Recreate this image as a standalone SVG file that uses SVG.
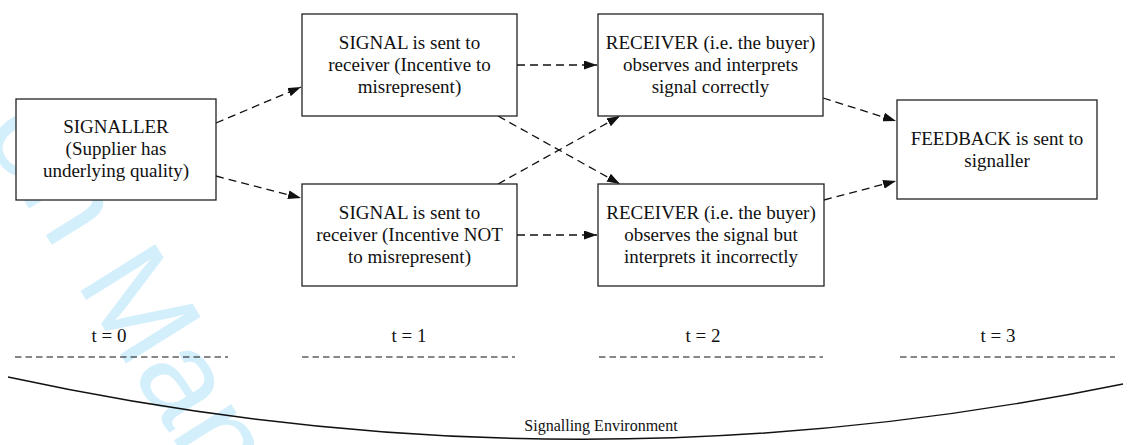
<svg xmlns="http://www.w3.org/2000/svg" width="1128" height="445" viewBox="0 0 1128 445">
<style>
.box{fill:#fff;stroke:#222;stroke-width:1.3}
.lbl{font-family:"Liberation Serif","Times New Roman",serif;font-size:19px;fill:#111;text-anchor:middle}
.conn{fill:none;stroke:#111;stroke-width:1.3;stroke-dasharray:8 5}
.tl{fill:none;stroke:#111;stroke-width:1.2;stroke-dasharray:6.5 4}
.wm{font-family:"Liberation Sans",Arial,sans-serif;font-size:128px;fill:#d3effb}
</style>
<defs>
<marker id="arr" markerUnits="userSpaceOnUse" markerWidth="13" markerHeight="9" refX="13" refY="4.5" orient="auto">
<path d="M0,0 L13,4.5 L0,9 z" fill="#111"/>
</marker>
</defs>
<rect width="1128" height="445" fill="#fff"/>
<g id="watermark">
<text class="wm" transform="translate(75,282) rotate(58)" x="-178" y="0">on Man</text>
</g>
<g id="connectors">
<line class="conn" x1="216" y1="123" x2="301" y2="87" marker-end="url(#arr)"/>
<line class="conn" x1="216" y1="176" x2="301" y2="198" marker-end="url(#arr)"/>
<line class="conn" x1="517" y1="65" x2="597" y2="65" marker-end="url(#arr)"/>
<line class="conn" x1="517" y1="235" x2="597" y2="235" marker-end="url(#arr)"/>
<line class="conn" x1="498" y1="116" x2="620" y2="184" marker-end="url(#arr)"/>
<line class="conn" x1="498" y1="184" x2="620" y2="116" marker-end="url(#arr)"/>
<line class="conn" x1="823" y1="98" x2="896" y2="121" marker-end="url(#arr)"/>
<line class="conn" x1="824" y1="200" x2="896" y2="181" marker-end="url(#arr)"/>
</g>
<g id="signaller">
<rect class="box" x="16" y="99" width="200" height="101"/>
<text class="lbl" x="116" y="133">SIGNALLER</text>
<text class="lbl" x="116" y="155">(Supplier has</text>
<text class="lbl" x="116" y="177">underlying quality)</text>
</g>
<g id="signal-incentive">
<rect class="box" x="302" y="14" width="215" height="102"/>
<text class="lbl" x="409.5" y="49">SIGNAL is sent to</text>
<text class="lbl" x="409.5" y="71">receiver (Incentive to</text>
<text class="lbl" x="409.5" y="93">misrepresent)</text>
</g>
<g id="signal-no-incentive">
<rect class="box" x="302" y="184" width="215" height="102"/>
<text class="lbl" x="409.5" y="219">SIGNAL is sent to</text>
<text class="lbl" x="409.5" y="241">receiver (Incentive NOT</text>
<text class="lbl" x="409.5" y="263">to misrepresent)</text>
</g>
<g id="receiver-correct">
<rect class="box" x="598" y="14" width="225" height="102"/>
<text class="lbl" x="710.5" y="49">RECEIVER (i.e. the buyer)</text>
<text class="lbl" x="710.5" y="71">observes and interprets</text>
<text class="lbl" x="710.5" y="93">signal correctly</text>
</g>
<g id="receiver-incorrect">
<rect class="box" x="598" y="184" width="226" height="102"/>
<text class="lbl" x="711" y="219">RECEIVER (i.e. the buyer)</text>
<text class="lbl" x="711" y="241">observes the signal but</text>
<text class="lbl" x="711" y="263">interprets it incorrectly</text>
</g>
<g id="feedback">
<rect class="box" x="897" y="100" width="200" height="99"/>
<text class="lbl" x="997" y="145">FEEDBACK is sent to</text>
<text class="lbl" x="997" y="167">signaller</text>
</g>
<g id="timeline">
<text class="lbl" x="109" y="342">t = 0</text>
<text class="lbl" x="409" y="342">t = 1</text>
<text class="lbl" x="703" y="342">t = 2</text>
<text class="lbl" x="998" y="342">t = 3</text>
<line class="tl" x1="15" y1="357" x2="228" y2="357"/>
<line class="tl" x1="302" y1="357" x2="515" y2="357"/>
<line class="tl" x1="599" y1="357" x2="823" y2="357"/>
<line class="tl" x1="900" y1="357" x2="1115" y2="357"/>
</g>
<g id="environment">
<path d="M8,377 Q566,498 1123,384" fill="none" stroke="#111" stroke-width="1.4"/>
<text x="601" y="431" style="font-family:'Liberation Serif','Times New Roman',serif;font-size:16px;fill:#111;text-anchor:middle">Signalling Environment</text>
</g>
</svg>
